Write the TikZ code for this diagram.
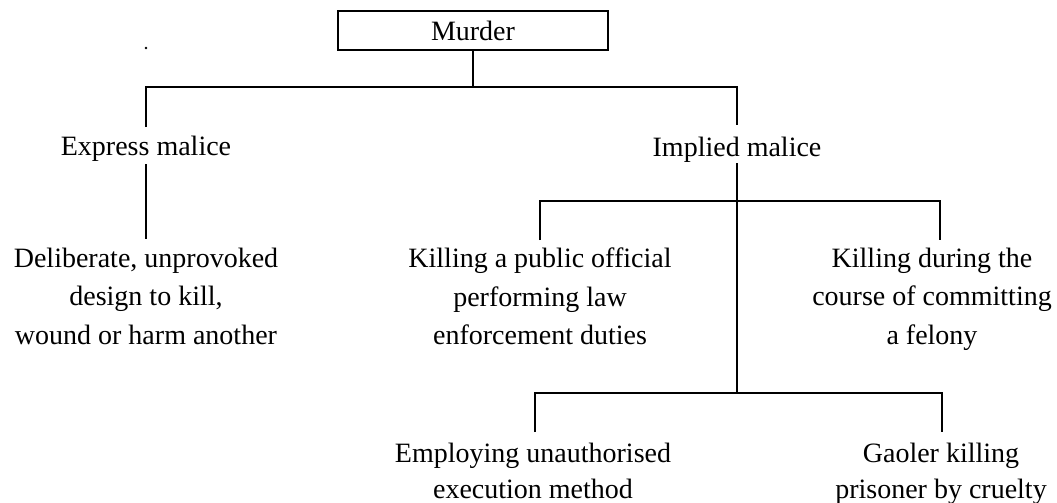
\documentclass[tikz,border=0pt]{standalone}
\usepackage{fontspec}
\setmainfont{Liberation Serif}
\begin{document}
\begin{tikzpicture}[x=1pt,y=-1pt,
  link/.style={draw=black,line width=1.8pt},
  boxnode/.style={draw=black,line width=2.4pt,minimum width=270pt,minimum height=39pt,
    inner sep=0pt,font=\fontsize{28}{34}\selectfont},
  label/.style={inner sep=0pt,font=\fontsize{28}{34}\selectfont,anchor=base},
  upper/.style={inner sep=0pt,align=center,anchor=north,font=\fontsize{28}{38.5}\selectfont},
  lower/.style={inner sep=0pt,align=center,anchor=north,font=\fontsize{28}{36.5}\selectfont}]
\useasboundingbox (0,0) rectangle (1057,503);
\fill[white] (0,0) rectangle (1057,503);

% root
\node[boxnode] (murder) at (473,30.5) {Murder};

% two kinds of malice
\node[label] (express) at (146,155) {Express malice};
\node[label] (implied) at (737,156) {Implied malice};

% descriptions (first baseline 19.2pt below the anchor)
\node[upper] (deliberate) at (146,247.8) {Deliberate, unprovoked\\design to kill,\\wound or harm another};
\node[upper] (official) at (540,247.8) {Killing a public official\\performing law\\enforcement duties};
\node[upper] (felony) at (932,247.8) {Killing during the\\course of committing\\a felony};
\node[lower] (execution) at (533,442.8) {Employing unauthorised\\execution method};
\node[lower] (gaoler) at (941,442.8) {Gaoler killing\\prisoner by cruelty};

% stray printer's dot
\fill (146,48) circle (1.3pt);

% connectors
\draw[link] (murder.south) -- (murder.south |- 0,87);
\draw[link] (express.north |- 0,127) -- (express.north |- 0,87)
  -- (implied.north |- 0,87) -- (implied.north |- 0,125);
\draw[link] (express.south |- 0,164) -- (deliberate.north |- 0,239);
\draw[link] (implied.south |- 0,163) -- (implied.south |- 0,393);
\draw[link] (official.north |- 0,240) -- (official.north |- 0,201)
  -- ([xshift=8pt]felony.north |- 0,201) -- ([xshift=8pt]felony.north |- 0,240);
\draw[link] ([xshift=2pt]execution.north |- 0,432) -- ([xshift=2pt]execution.north |- 0,393)
  -- ([xshift=1pt]gaoler.north |- 0,393) -- ([xshift=1pt]gaoler.north |- 0,432);
\end{tikzpicture}
\end{document}
